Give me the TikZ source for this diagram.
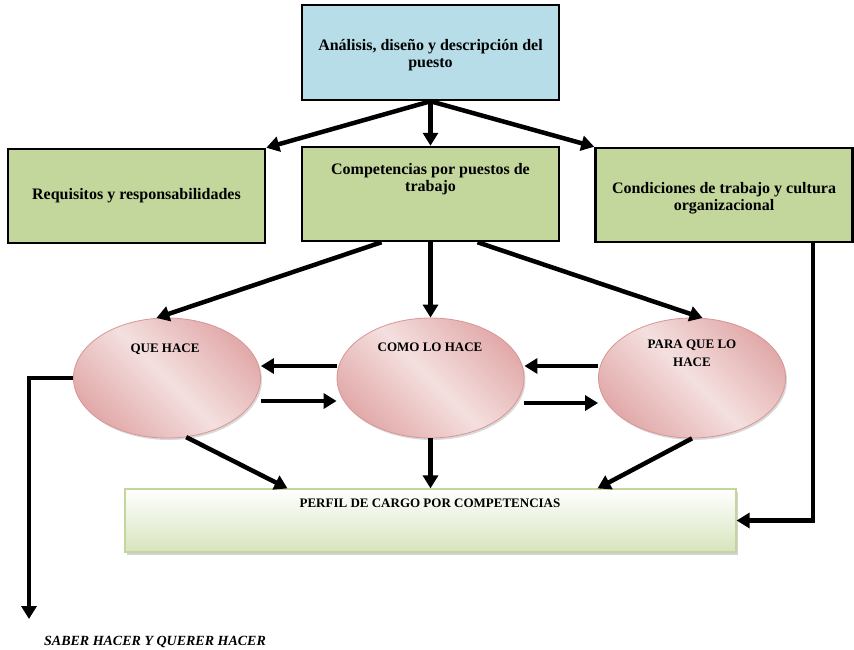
\documentclass[tikz,border=0pt]{standalone}
\usepackage{fontspec}
\setmainfont{Liberation Serif}
\usepackage{xcolor}
\usepackage{tikz}
\usetikzlibrary{shapes, arrows.meta, positioning}
\usetikzlibrary{calc, shadows}

\definecolor{TopBlue}{RGB}{183,222,232}
\definecolor{BoxGreen}{RGB}{195,214,155}
\definecolor{PaleGreen}{RGB}{215,228,189}
\definecolor{RoseLight}{RGB}{244,224,223}
\definecolor{RoseDark}{RGB}{226,170,170}
\definecolor{RoseEdge}{RGB}{217,149,148}

\begin{document}
\begin{tikzpicture}
  [
    x=1pt, y=-1pt,
    Blue/.style={rectangle, draw=black, fill=TopBlue, line width=2.5pt, minimum width=257pt, minimum height=95pt, inner sep=0pt},
    Green/.style={rectangle, draw=black, fill=BoxGreen, line width=2.5pt, minimum width=257pt, minimum height=94pt, inner sep=0pt},
    Oval/.style={ellipse, draw=RoseEdge, line width=0.8pt, top color=RoseDark, bottom color=RoseDark, middle color=RoseLight, shading angle=-45, minimum width=187pt, minimum height=120pt, inner sep=0pt, drop shadow={shadow xshift=1.5pt, shadow yshift=-2pt, opacity=0.3}},
    Profile/.style={rectangle, draw=BoxGreen, line width=1.2pt, top color=white, bottom color=PaleGreen, minimum width=611pt, minimum height=63pt, inner sep=0pt, drop shadow={shadow xshift=2pt, shadow yshift=-2.5pt, opacity=0.35}},
    Txt/.style={font=\bfseries\fontsize{16}{17.5}\selectfont, align=center},
    Caps/.style={font=\bfseries\fontsize{13}{18}\selectfont, align=center},
    Arrow/.style={draw, line width=4.5pt, -{Triangle[length=13pt, width=15pt]}}
  ]
  \useasboundingbox (0,0) rectangle (854,649);

  % Nodes
  \node[Blue] (Top) at (430.5,52.5) {};
  \node[Txt] (TopText) at (430.5,55) {Análisis, diseño y descripción del\\puesto};
  \node[Green, Txt] (Req) at (136.5,196) {Requisitos y responsabilidades};
  \node[Green] (Comp) at (430.5,194) {};
  \node[Txt] (CompText) at (430.5,179) {Competencias por puestos de\\trabajo};
  \node[Green] (Cond) at (724,195) {};
  \node[Txt] (CondText) at (724,198) {Condiciones de trabajo y cultura\\organizacional};

  \node[Oval] (Que) at (167,378) {};
  \node[Oval] (Como) at (430.5,378) {};
  \node[Oval] (Para) at (692,378) {};
  \node[Caps] (QueText) at (165,349) {QUE HACE};
  \node[Caps] (ComoText) at (430,347) {COMO LO HACE};
  \node[Caps] (ParaText) at (692,353) {PARA QUE LO\\HACE};

  \node[Profile] (Perfil) at (430.5,520.5) {};
  \node[Caps] (PerfilText) at (430,503) {PERFIL DE CARGO POR COMPETENCIAS};
  \node[Caps, font=\bfseries\itshape\fontsize{14}{16}\selectfont] (Saber) at (155,642) {SABER HACER Y QUERER HACER};
  \coordinate (SaberTip) at (29,619);

  % Lines
  \path [Arrow] (Top.south) -- (Req.north east);
  \path [Arrow] (Top.south) -- (Comp.north);
  \path [Arrow] (Top.south) -- (Cond.north west);

  \path [Arrow] ($(Comp.south)+(-49,0)$) -- (Que.100);
  \path [Arrow] (Comp.south) -- (Como.north);
  \path [Arrow] ($(Comp.south)+(47,0)$) -- (Para.80);

  \path [Arrow] ($(Como.west)+(0,-12)$) -- ($(Que.east)+(0,-12)$);
  \path [Arrow] ($(Que.east)+(0,23)$) -- ($(Como.west)+(0,23)$);
  \path [Arrow] ($(Para.west)+(0,-12)$) -- ($(Como.east)+(0,-12)$);
  \path [Arrow] ($(Como.east)+(0,25)$) -- ($(Para.west)+(0,25)$);

  \path [Arrow] (Que.-72) -- ($(Perfil.north)+(-143,0)$);
  \path [Arrow] (Como.south) -- (Perfil.north);
  \path [Arrow] (Para.south) -- ($(Perfil.north)+(167,0)$);

  \path [Arrow] (Que.west) -| (SaberTip);
  \path [Arrow] ($(Cond.south east)+(-41,0)$) |- (Perfil.east);

\end{tikzpicture}
\end{document}
